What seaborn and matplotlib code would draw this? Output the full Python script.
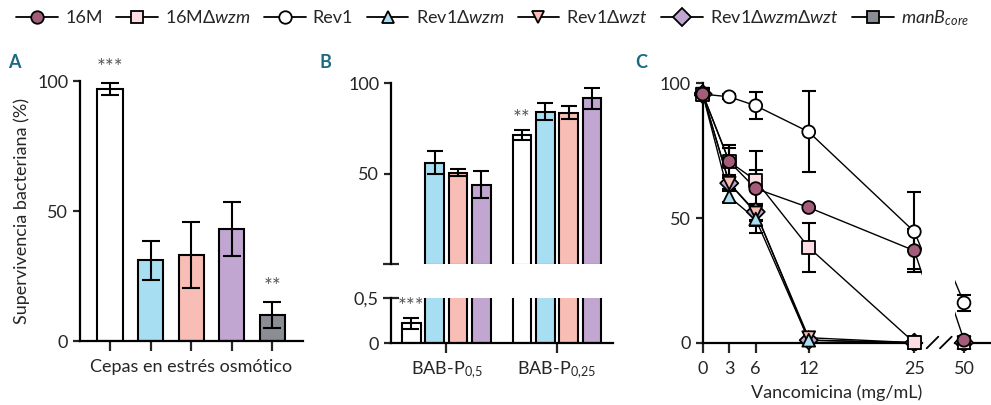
import numpy as np
import pandas as pd
import matplotlib
matplotlib.use('Agg')
import matplotlib.pyplot as plt
from matplotlib.lines import Line2D
from matplotlib.ticker import NullLocator
import seaborn as sns

# ---- data ----
# A: survival under osmotic stress
osm_strains = ['Rev1', 'Rev1Δwzm', 'Rev1Δwzt', 'Rev1ΔwzmΔwzt', 'manB_core']
osm_mean = [97, 31, 33, 43, 10]
osm_sd = [2.2, 7.4, 12.7, 10.4, 5.0]
osm_stars = ['***', '', '', '', '**']

# B: survival in BAB-P
bab_groups = ['BAB-P0,5', 'BAB-P0,25']
bab_ticklabels = [r'BAB-P$_{0{,}5}$', r'BAB-P$_{0{,}25}$']
bab_strains = ['Rev1', 'Rev1Δwzm', 'Rev1Δwzt', 'Rev1ΔwzmΔwzt']
bab_rev1 = [0.22, 71.4]
bab_wzm = [56.2, 84.3]
bab_wzt = [50.7, 83.7]
bab_wzmwzt = [44.0, 91.6]
bab_rev1_sd = [0.06, 2.8]
bab_wzm_sd = [6.4, 4.7]
bab_wzt_sd = [2.0, 3.4]
bab_wzmwzt_sd = [7.4, 5.8]

# C: vancomycin
vanco = [0, 3, 6, 12, 25, 50]
van_16M = [96, 71, 61, 54, 37, 1]
van_16M_sd = [2, 5, 14, 0, 8.5, 0]
van_16Mwzm = [96, 71, 64, 38.3, 0, 0]
van_16Mwzm_sd = [2, 6, 4, 10, 0, 0]
van_rev1 = [96, 95, 91.7, 82, 44.6, 16]
van_rev1_sd = [2, 1, 5, 15, 15, 3.2]
van_wzm = [96, 58, 49.7, 1, 0, 0]
van_wzm_sd = [2, 2, 5.7, 0, 0, 0]
van_wzt = [96, 63, 52, 2, 0, 0]
van_wzt_sd = [2, 2, 3, 0, 0, 0]
van_wzmwzt = [96, 63, 52.4, 1, 0, 0]
van_wzmwzt_sd = [2, 2, 3, 0, 0, 0]

colors = {'16M': '#a45c7b', '16MΔwzm': '#fbdde3', 'Rev1': '#ffffff',
          'Rev1Δwzm': '#a8def1', 'Rev1Δwzt': '#f8bdb5',
          'Rev1ΔwzmΔwzt': '#c0a6d0', 'manB_core': '#8a8d94'}
markers = {'16M': 'o', '16MΔwzm': 's', 'Rev1': 'o', 'Rev1Δwzm': '^',
           'Rev1Δwzt': 'v', 'Rev1ΔwzmΔwzt': 'D', 'manB_core': 's'}
legend_labels = {'16M': '16M', '16MΔwzm': r'16MΔ$\mathit{wzm}$', 'Rev1': 'Rev1',
                 'Rev1Δwzm': r'Rev1Δ$\mathit{wzm}$', 'Rev1Δwzt': r'Rev1Δ$\mathit{wzt}$',
                 'Rev1ΔwzmΔwzt': r'Rev1Δ$\mathit{wzm}$Δ$\mathit{wzt}$',
                 'manB_core': r'$\mathit{manB}_{\mathit{core}}$'}

sns.set_style('ticks')
plt.rcParams['font.family'] = ['Lato', 'DejaVu Sans']
plt.rcParams['mathtext.fontset'] = 'custom'
plt.rcParams['mathtext.rm'] = 'Lato'
plt.rcParams['mathtext.it'] = 'Lato:italic'
plt.rcParams['axes.linewidth'] = 1.6
plt.rcParams['xtick.major.width'] = 1.6
plt.rcParams['ytick.major.width'] = 1.6
plt.rcParams['xtick.major.size'] = 6
plt.rcParams['ytick.major.size'] = 5
plt.rcParams['xtick.labelsize'] = 13
plt.rcParams['ytick.labelsize'] = 13
plt.rcParams['axes.edgecolor'] = 'black'

W, H = 991, 405
fig = plt.figure(figsize=(W / 100, H / 100), dpi=100)


def box(l, t, r, b):
    return [l / W, 1 - b / H, (r - l) / W, (b - t) / H]


star_color = '#555555'
err_kw = dict(fmt='none', ecolor='black', elinewidth=1.5, capthick=1.5)

# ---------------- A ----------------
axA = fig.add_axes(box(80, 81, 303, 341))
df_a = pd.DataFrame({'strain': osm_strains, 'surv': osm_mean})
sns.barplot(data=df_a, x='strain', y='surv', hue='strain', palette=colors, saturation=1,
            legend=False, width=0.62, edgecolor='black', linewidth=1.5, ax=axA)
axA.errorbar(range(len(osm_strains)), osm_mean, yerr=osm_sd, capsize=6.5, **err_kw)
for i, s in enumerate(osm_stars):
    if s:
        axA.text(i, osm_mean[i] + osm_sd[i] + 2, s, ha='center', va='bottom',
                 fontsize=15, color=star_color, clip_on=False)
axA.set_xlim(-0.74, 4.76)
axA.set_ylim(0, 100)
axA.set_yticks([0, 50, 100])
axA.tick_params(axis='x', labelbottom=False, length=7)
axA.set_xlabel('Cepas en estrés osmótico', fontsize=13, labelpad=6)
axA.set_ylabel('Supervivencia bacteriana (%)', fontsize=13)
axA.yaxis.set_label_coords(-0.225, 0.5)
sns.despine(ax=axA)

# ---------------- B (broken y axis) ----------------
df_b = pd.DataFrame({
    'group': bab_groups * 4,
    'strain': np.repeat(bab_strains, 2),
    'val': bab_rev1 + bab_wzm + bab_wzt + bab_wzmwzt,
    'sd': bab_rev1_sd + bab_wzm_sd + bab_wzt_sd + bab_wzmwzt_sd,
})
axBu = fig.add_axes(box(391, 83, 613, 264))
axBl = fig.add_axes(box(391, 298, 613, 343))
for ax, lo in ((axBu, 0.5), (axBl, 0)):
    sns.barplot(data=df_b, x='group', y='val', hue='strain', hue_order=bab_strains,
                palette=colors, saturation=1, width=0.845, gap=0.2, edgecolor='black',
                linewidth=1.5, legend=False, ax=ax)
    xs, ys, es = [], [], []
    for p in ax.patches:
        h = p.get_height()
        if h < lo:
            # below this segment of the broken axis
            p.set_visible(False)
            continue
        row = df_b[np.isclose(df_b['val'], h)]
        if len(row):
            xs.append(p.get_x() + p.get_width() / 2)
            ys.append(h)
            es.append(row['sd'].iloc[0])
    ax.errorbar(xs, ys, yerr=es, capsize=6, **err_kw)
    ax.set_xlim(-0.502, 1.507)
    ax.set_xlabel('')
    ax.set_ylabel('')

axBu.set_ylim(0.5, 100)
axBu.set_yticks([50, 100])
axBu.set_yticks([0.5], minor=True)
axBu.tick_params(axis='y', which='minor', direction='inout', length=11, width=1.6)
axBu.tick_params(axis='x', bottom=False, labelbottom=False)
sns.despine(ax=axBu, bottom=True)

axBl.set_ylim(0, 0.5)
axBl.set_yticks([0])
axBl.set_yticks([0.5], labels=['0,5'], minor=True)
axBl.tick_params(axis='y', which='minor', direction='inout', length=11, width=1.6,
                 labelsize=13)
axBl.set_xticks([0, 1], labels=bab_ticklabels)
axBl.tick_params(axis='x', length=7, labelsize=13, pad=5)
sns.despine(ax=axBl)

# stars for B (above the Rev1 bars)
axBl.text(-0.317, bab_rev1[0] + bab_rev1_sd[0] + 0.01, '***', ha='center', va='bottom',
          fontsize=15, color=star_color, clip_on=False)
axBu.text(1 - 0.317, bab_rev1[1] + bab_rev1_sd[1] + 0.5, '**', ha='center', va='bottom',
          fontsize=15, color=star_color, clip_on=False)

# ---------------- C (piecewise axes, broken x) ----------------
xk = [-10, 0, 12, 25, 50, 100]
xp = [-88.3, 0, 106, 211.6, 241.6, 354.1]
yk = [-10, 0, 50, 100, 150]
yp = [-24.9, 0, 124.4, 259.4, 394.4]


def fx(v):
    return np.interp(v, xk, xp)


def fx_inv(p):
    return np.interp(p, xp, xk)


def fy(v):
    return np.interp(v, yk, yp)


def fy_inv(p):
    return np.interp(p, yp, yk)


van_series = [('Rev1ΔwzmΔwzt', van_wzmwzt, van_wzmwzt_sd),
              ('Rev1Δwzt', van_wzt, van_wzt_sd),
              ('Rev1Δwzm', van_wzm, van_wzm_sd),
              ('Rev1', van_rev1, van_rev1_sd),
              ('16MΔwzm', van_16Mwzm, van_16Mwzm_sd),
              ('16M', van_16M, van_16M_sd)]
df_c = pd.concat([pd.DataFrame({'conc': vanco, 'val': v, 'sd': e, 'strain': n})
                  for n, v, e in van_series], ignore_index=True)

axCl = fig.add_axes(box(693.9, 75.2, 922, 351.4))
axCr = fig.add_axes(box(955, 75.2, 991, 351.4))
for ax in (axCl, axCr):
    ax.set_xscale('function', functions=(fx, fx_inv))
    ax.set_yscale('function', functions=(fy, fy_inv))
    sns.lineplot(data=df_c, x='conc', y='val', units='strain', estimator=None,
                 color='black', lw=1.0, sort=False, ax=ax, zorder=2)
    for n, v, e in van_series:
        ax.errorbar(vanco, v, yerr=e, capsize=5, zorder=2.5, **err_kw)
    sns.scatterplot(data=df_c, x='conc', y='val', hue='strain', style='strain',
                    markers=markers, palette=colors, s=85, edgecolor='black',
                    linewidth=1.3, legend=False, ax=ax, zorder=3)
    ax.set_ylim(-3.5, 103)
    ax.set_xlabel('')
    ax.set_ylabel('')
    ax.spines['bottom'].set_position(('data', 0))
    ax.spines['top'].set_visible(False)
    ax.spines['right'].set_visible(False)
    ax.xaxis.set_minor_locator(NullLocator())
    ax.yaxis.set_minor_locator(NullLocator())
    ax.tick_params(axis='x', length=7, pad=6)

axCl.set_xlim(-1, 31.4)
axCl.set_xticks([0, 3, 6, 12, 25], labels=['0', '3', '6', '12', '25'])
axCl.set_yticks([0, 50, 100], labels=['0', '50', '100'])
axCl.spines['left'].set_position(('data', 0))
axCl.spines['left'].set_bounds(0, 100)
axCl.spines['bottom'].set_bounds(0, 31.4)

axCr.set_xlim(42.5, 62)
axCr.set_xticks([50], labels=['50'])
axCr.set_yticks([])
axCr.spines['left'].set_visible(False)

# break marks on the C x axis
for x1, x2 in [(926.7, 938.3), (940, 951.7)]:
    fig.add_artist(Line2D([x1 / W, x2 / W], [1 - 348.3 / H, 1 - 336.7 / H],
                          color='black', lw=1.3))
fig.text(837 / W, 1 - 393 / H, 'Vancomicina (mg/mL)', ha='center', va='center', fontsize=13)

# panel letters
for lab, x in [('A', 14), ('B', 325), ('C', 641)]:
    fig.text(x / W, 1 - 62 / H, lab, ha='center', va='center', fontsize=13,
             fontweight='bold', color='#1b6a80')

# legend
handles = [Line2D([0], [0], color='black', lw=1.3, marker=markers[k], markersize=9,
                  markerfacecolor=colors[k], markeredgecolor='black', markeredgewidth=1.3)
           for k in colors]
fig.legend(handles, [legend_labels[k] for k in colors], ncol=7, loc='center',
           bbox_to_anchor=(0.497, 1 - 18 / H), frameon=False, fontsize=13,
           handlelength=2.3, handletextpad=0.4, columnspacing=0.75)

fig.savefig('out.png', dpi=100)
